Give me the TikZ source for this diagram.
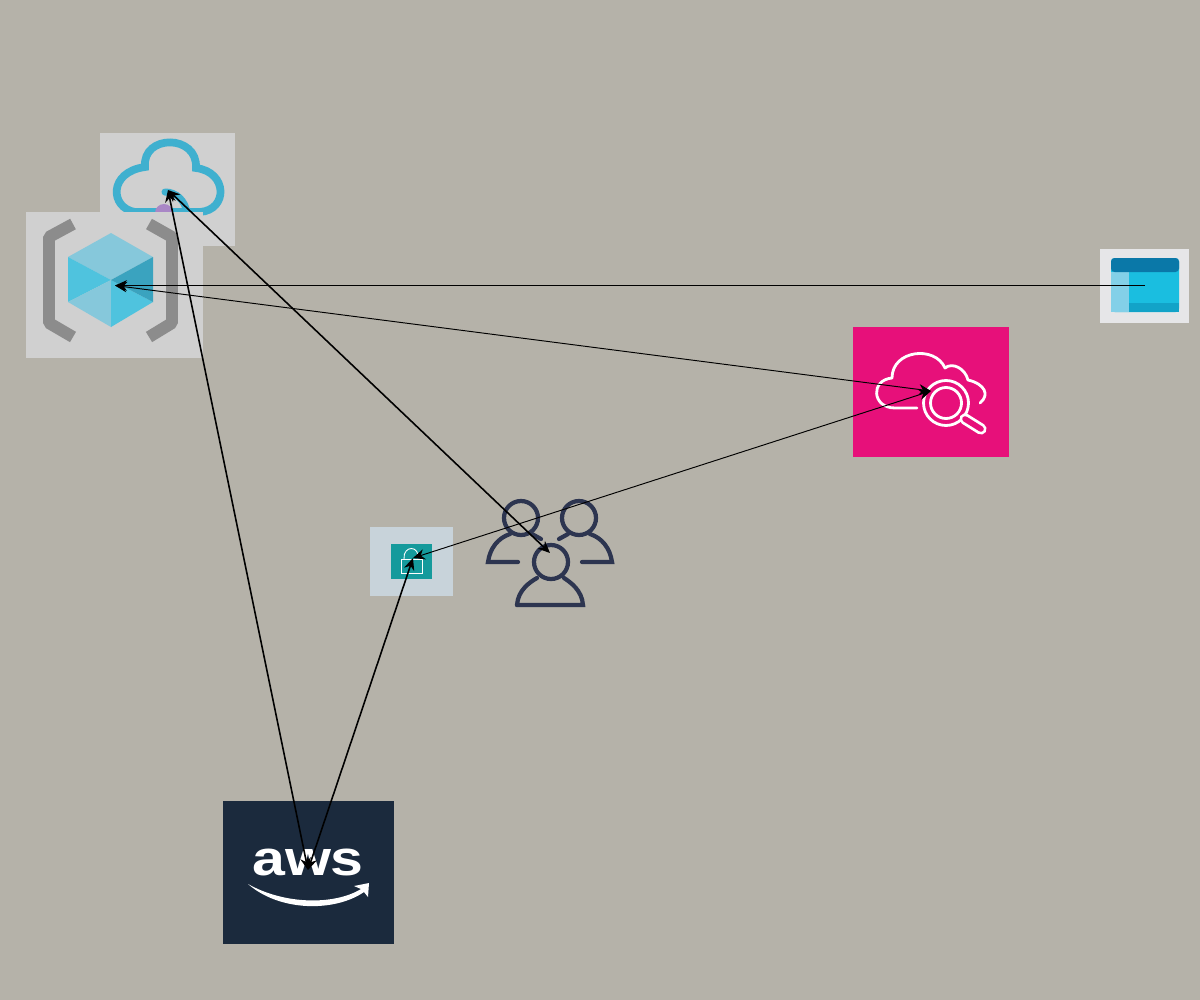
\documentclass[tikz,border=0pt]{standalone}
\usepackage{fontspec}
\usepackage{graphicx}
\usetikzlibrary{arrows.meta}
\newfontfamily\logofont{Liberation Sans}
\definecolor{backdrop}{HTML}{B5B2A9}
\definecolor{cloudblue}{HTML}{3FB0CF}
\definecolor{cubegrey}{HTML}{8C8C8C}
\definecolor{panelgrey}{HTML}{D0D0D0}
\definecolor{cubelight}{HTML}{86C8DB}
\definecolor{cubemid}{HTML}{4FC3DE}
\definecolor{cubedark}{HTML}{3AA3BF}
\definecolor{pinkbox}{HTML}{E7107A}
\definecolor{awsnavy}{HTML}{1B2A3D}
\definecolor{usersnavy}{HTML}{2D3550}
\definecolor{lockteal}{HTML}{159A9C}
\definecolor{lockpanel}{HTML}{C8D3DA}
\definecolor{calpanel}{HTML}{E6E6E8}
\definecolor{calmain}{HTML}{1ABEE0}
\definecolor{callight}{HTML}{83D0E8}
\definecolor{calstrip}{HTML}{12A3C8}
\definecolor{calhead}{HTML}{0A78A8}
\definecolor{purpledot}{HTML}{A987C6}
\tikzset{
	thinlink/.style={line width=0.27pt},
	boldlink/.style={line width=0.45pt},
	whiteline/.style={draw=white,line width=0.8pt,line cap=round,line join=round},
	usersline/.style={draw=usersnavy,line width=1.2pt,line cap=round}
}
\begin{document}
\begin{tikzpicture}[>={Stealth[length=3.4pt,width=3pt]},x=0.01cm,y=-0.01cm]
	\useasboundingbox (0,0) rectangle (1200,1000);
	\fill[backdrop] (0,0) rectangle (1200,1000);
	% cloud
	\fill[panelgrey] (100,133) rectangle (235,246);
	\draw[cloudblue,line width=2.2pt] (200,212) .. controls (228,210) and (228,172) .. (196,168) .. controls (198,134) and (142,134) .. (145,167) .. controls (108,172) and (110,208) .. (135,212) -- (200,212);
	\fill[purpledot] (164,213) circle (9);
	\draw[cloudblue,line width=2pt,line cap=round] (165,192) .. controls (176,192) and (185,200) .. (187,213);
	% cube
	\fill[panelgrey] (26,212) rectangle (203,358);
	\draw[cubegrey,line width=3.4pt,line join=bevel] (73,224) -- (49,237) -- (49,323) -- (73,337);
	\draw[cubegrey,line width=3.4pt,line join=bevel] (149,224) -- (172,237) -- (172,323) -- (149,337);
	\fill[cubelight] (111,233) -- (153,257) -- (111,280) -- (68,257) -- cycle;
	\fill[cubemid] (68,257) -- (111,280) -- (68,302) -- cycle;
	\fill[cubelight] (68,302) -- (111,280) -- (111,327) -- cycle;
	\fill[cubemid] (111,280) -- (153,302) -- (111,327) -- cycle;
	\fill[cubedark] (111,280) -- (153,257) -- (153,302) -- cycle;
	% calendar
	\fill[calpanel] (1100,249) rectangle (1189,323);
	\fill[calmain,rounded corners=1pt] (1111,258) rectangle (1179,312);
	\fill[callight] (1111,272) rectangle (1129,312);
	\fill[calstrip] (1129,303) rectangle (1179,312);
	\fill[calhead,rounded corners=1pt] (1111,258) rectangle (1179,272);
	% pink box
	\fill[pinkbox] (853,327) rectangle (1009,457);
	\draw[whiteline] (917,408) -- (895,408) .. controls (872,408) and (870,380) .. (892,378) .. controls (892,350) and (935,345) .. (945,368) .. controls (952,362) and (965,368) .. (968,380) .. controls (985,384) and (990,395) .. (980,403);
	\draw[whiteline] (946,403) circle (22.5);
	\draw[whiteline] (946,403) circle (15.5);
	\draw[white,line width=3.2pt,line cap=round] (965,419) -- (981,429);
	\draw[pinkbox,line width=1.6pt,line cap=round] (965,419) -- (981,429);
	% lock
	\fill[lockpanel] (370,527) rectangle (453,596);
	\fill[lockteal] (391,544) rectangle (432,579);
	\draw[white,line width=0.25pt] (401,559) rectangle (422,573);
	\draw[white,line width=0.25pt] (404,559) .. controls (403,545) and (420,545) .. (418,559);
	% users
	\draw[usersline] (521,518) circle (17);
	\draw[usersline] (579,518) circle (17);
	\draw[usersline] (551,562) circle (17);
	\draw[usersline] (518,562) -- (488,562) .. controls (490,548) and (498,538) .. (510,534);
	\draw[usersline] (582,562) -- (612,562) .. controls (610,548) and (602,538) .. (590,534);
	\draw[usersline] (517,605) -- (583,605) .. controls (582,590) and (570,582) .. (564,578);
	\draw[usersline] (517,605) .. controls (518,590) and (530,582) .. (537,578);
	\draw[usersline] (532,534) -- (541,539);
	\draw[usersline] (568,534) -- (559,539);
	% aws
	\fill[awsnavy] (223,801) rectangle (394,944);
	\node[text=white,inner sep=0pt,anchor=base] (awslabel) at (308,875) {\scalebox{1.2}[1]{\logofont\bfseries\fontsize{14}{14}\selectfont aws}};
	\fill[white] (248,884) .. controls (285,905) and (335,905) .. (361,889) -- (354,886) -- (369,883) -- (368,897) -- (364,892) .. controls (335,912) and (280,912) .. (248,884) -- cycle;
	% anchors for the links
	\coordinate (cloudhub) at (168,190);
	\coordinate (cubehub) at (115,285.5);
	\coordinate (calendarhub) at (1145,285.5);
	\coordinate (pinkhub) at (931,391);
	\coordinate (lockhub) at (413,558);
	\coordinate (usershub) at (550,553);
	\coordinate (awshub) at (308,870);
	\draw[boldlink,<->] (cloudhub) -- (usershub);
	\draw[boldlink,<->] (cloudhub) -- (awshub);
	\draw[thinlink,<->] (cubehub) -- (pinkhub);
	\draw[thinlink,->] (calendarhub) -- (cubehub);
	\draw[thinlink,<->] (lockhub) -- (pinkhub);
	\draw[boldlink,<->] (lockhub) -- (awshub);
\end{tikzpicture}
\end{document}
